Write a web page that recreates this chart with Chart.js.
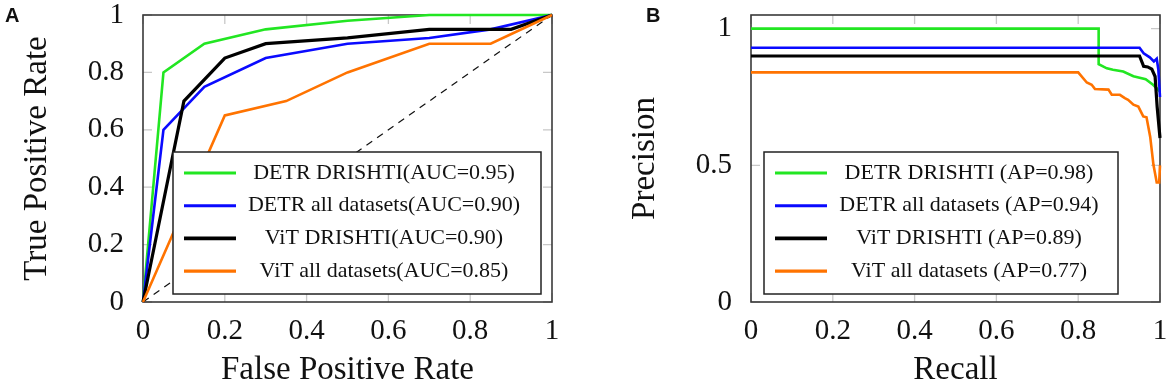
<!DOCTYPE html>
<html>
<head>
<meta charset="utf-8">
<script src="https://cdn.jsdelivr.net/npm/chart.js@4.4.1/dist/chart.umd.min.js"></script>
<style>
  html, body { margin: 0; padding: 0; background: #fff; }
  #wrap { position: relative; width: 1170px; height: 387px; overflow: hidden; }
  .panel { position: absolute; top: 0; width: 585px; height: 387px; }
  .tag { position: absolute; font-family: "Liberation Sans", Arial, sans-serif; font-weight: bold; font-size: 20px; color: #111; }
</style>
</head>
<body>
<div id="wrap">
  <div class="panel" style="left:0"><canvas id="roc"></canvas></div>
  <div class="panel" style="left:585px"><canvas id="pr"></canvas></div>
  <div class="tag" style="left:5px;top:4px">A</div>
  <div class="tag" style="left:646px;top:4px">B</div>
</div>
<script>
// panel A - ROC curves
var rocLabels = ['DETR DRISHTI(AUC=0.95)', 'DETR all datasets(AUC=0.90)', 'ViT DRISHTI(AUC=0.90)', 'ViT all datasets(AUC=0.85)'];
var rocFprDetrDrishti = [0, 0.05, 0.15, 0.3, 0.5, 0.7, 1];
var rocTprDetrDrishti = [0, 0.8, 0.9, 0.95, 0.98, 1, 1];
var rocFprDetrAll = [0, 0.05, 0.15, 0.3, 0.5, 0.7, 0.85, 1];
var rocTprDetrAll = [0, 0.6, 0.75, 0.85, 0.9, 0.92, 0.95, 1];
var rocFprVitDrishti = [0, 0.1, 0.2, 0.3, 0.5, 0.7, 0.9, 1];
var rocTprVitDrishti = [0, 0.7, 0.85, 0.9, 0.92, 0.95, 0.95, 1];
var rocFprVitAll = [0, 0.2, 0.35, 0.5, 0.7, 0.85, 1];
var rocTprVitAll = [0, 0.65, 0.7, 0.8, 0.9, 0.9, 1];
var chanceX = [0, 1];
var chanceY = [0, 1];

// panel B - precision / recall
var prLabels = ['DETR DRISHTI (AP=0.98)', 'DETR all datasets (AP=0.94)', 'ViT DRISHTI (AP=0.89)', 'ViT all datasets (AP=0.77)'];
var prRecDetrDrishti = [0, 0.85, 0.85, 0.87, 0.885, 0.91, 0.935, 0.965, 0.983, 1];
var prPrecDetrDrishti = [1, 1, 0.87, 0.855, 0.85, 0.843, 0.826, 0.815, 0.795, 0.77];
var prRecDetrAll = [0, 0.95, 0.96, 0.975, 0.985, 0.992, 0.996, 1];
var prPrecDetrAll = [0.93, 0.93, 0.91, 0.895, 0.88, 0.89, 0.85, 0.75];
var prRecVitDrishti = [0, 0.95, 0.96, 0.97, 0.98, 0.988, 0.993, 1];
var prPrecVitDrishti = [0.9, 0.9, 0.862, 0.86, 0.852, 0.825, 0.715, 0.6];
var prRecVitAll = [0, 0.8, 0.821, 0.833, 0.841, 0.874, 0.882, 0.902, 0.914, 0.922, 0.935, 0.947, 0.959, 0.967, 0.976, 0.984, 0.992, 0.998, 1];
var prPrecVitAll = [0.84, 0.84, 0.803, 0.795, 0.779, 0.777, 0.758, 0.758, 0.746, 0.74, 0.722, 0.715, 0.679, 0.676, 0.605, 0.502, 0.437, 0.437, 0.5];

var unitTicks = [0, 0.2, 0.4, 0.6, 0.8, 1];
var prYTicks = [0, 0.5, 1];

var colors = ['#22e622', '#0a0aff', '#000000', '#ff7300'];
var widths = [2.6, 2.6, 3.2, 2.6];
var serif = '"Liberation Serif", "Times New Roman", serif';

function pts(xs, ys) {
  return xs.map(function (x, i) { return { x: x, y: ys[i] }; });
}

function curve(i, label, xs, ys) {
  return {
    label: label,
    data: pts(xs, ys),
    borderColor: colors[i],
    borderWidth: widths[i],
    order: 3 - i,
    pointRadius: 0,
    tension: 0,
    fill: false,
    clip: false
  };
}

// inside tick marks + frame, like the pgfplots style
var frameAndTicks = {
  id: 'frameAndTicks',
  beforeDatasetsDraw: function (chart) {
    var ctx = chart.ctx, a = chart.chartArea;
    var xs = chart.scales.x, ys = chart.scales.y;
    var len = 9;
    ctx.save();
    ctx.strokeStyle = '#c8c8c8';
    ctx.lineWidth = 1.3;
    ctx.beginPath();
    xs.ticks.forEach(function (t) {
      var px = xs.getPixelForValue(t.value);
      ctx.moveTo(px, a.bottom); ctx.lineTo(px, a.bottom - len);
      ctx.moveTo(px, a.top); ctx.lineTo(px, a.top + len);
    });
    ys.ticks.forEach(function (t) {
      var py = ys.getPixelForValue(t.value);
      ctx.moveTo(a.left, py); ctx.lineTo(a.left + len, py);
      ctx.moveTo(a.right, py); ctx.lineTo(a.right - len, py);
    });
    ctx.stroke();
    ctx.strokeStyle = '#3a3a3a';
    ctx.lineWidth = 1.6;
    ctx.strokeRect(a.left, a.top, a.right - a.left, a.bottom - a.top);
    ctx.restore();
  }
};

var boxLegend = {
  id: 'boxLegend',
  afterDatasetsDraw: function (chart, args, o) {
    var ctx = chart.ctx, a = chart.chartArea;
    var x = a.left + o.dx, y = a.top + o.dy;
    ctx.save();
    ctx.fillStyle = '#fff';
    ctx.fillRect(x, y, o.w, o.h);
    ctx.strokeStyle = '#222';
    ctx.lineWidth = 1.5;
    ctx.strokeRect(x, y, o.w, o.h);
    ctx.font = '22px ' + serif;
    ctx.textAlign = 'center';
    ctx.textBaseline = 'middle';
    chart.data.datasets.filter(function (d) { return d.label; }).forEach(function (d, i) {
      var ry = y + o.firstRow + i * o.rowGap;
      ctx.strokeStyle = d.borderColor;
      ctx.lineWidth = d.borderWidth + 0.5;
      ctx.beginPath();
      ctx.moveTo(x + 11, ry);
      ctx.lineTo(x + 63, ry);
      ctx.stroke();
      ctx.fillStyle = '#111';
      ctx.fillText(d.label, x + o.textCenter, ry);
    });
    ctx.restore();
  }
};

function makeScales(xTitle, yTitle, yMax, yTicks, yWidth, yTitlePad) {
  return {
    x: {
      type: 'linear', min: 0, max: 1,
      grid: { display: false }, border: { display: false },
      afterBuildTicks: function (s) { s.ticks = unitTicks.map(function (v) { return { value: v }; }); },
      ticks: {
        padding: 7, maxRotation: 0, color: '#111',
        font: { family: serif, size: 29, lineHeight: 1 },
        callback: function (v) { return String(v); }
      },
      title: {
        display: true, text: xTitle, color: '#111',
        font: { family: serif, size: 33, lineHeight: 1 },
        padding: { top: 0, bottom: 0 }
      },
      afterFit: function (s) { s.height = 85; s.paddingLeft = 0; s.paddingRight = 0; }
    },
    y: {
      type: 'linear', min: 0, max: yMax,
      grid: { display: false }, border: { display: false },
      afterBuildTicks: function (s) { s.ticks = yTicks.map(function (v) { return { value: v }; }); },
      ticks: {
        padding: 11, color: '#111',
        font: { family: serif, size: 29, lineHeight: 1 },
        callback: function (v) { return String(v); }
      },
      title: {
        display: true, text: yTitle, color: '#111',
        font: { family: serif, size: 33, lineHeight: 1 },
        padding: { top: yTitlePad, bottom: 0 }
      },
      afterFit: function (s) { s.width = yWidth; s.paddingTop = 0; s.paddingBottom = 0; }
    }
  };
}

Chart.defaults.animation = false;

new Chart(document.getElementById('roc'), {
  type: 'line',
  data: {
    datasets: [
      curve(0, rocLabels[0], rocFprDetrDrishti, rocTprDetrDrishti),
      curve(1, rocLabels[1], rocFprDetrAll, rocTprDetrAll),
      curve(2, rocLabels[2], rocFprVitDrishti, rocTprVitDrishti),
      curve(3, rocLabels[3], rocFprVitAll, rocTprVitAll),
      {
        data: pts(chanceX, chanceY),
        borderColor: '#111', borderWidth: 1.2, borderDash: [7, 6],
        pointRadius: 0, order: 9, fill: false
      }
    ]
  },
  options: {
    responsive: true,
    maintainAspectRatio: false,
    layout: { padding: { top: 15, right: 33, bottom: 0, left: 0 } },
    plugins: {
      legend: { display: false },
      tooltip: { enabled: false },
      boxLegend: { dx: 30, dy: 137, w: 368, h: 142, firstRow: 21, rowGap: 32.7, textCenter: 211 }
    },
    scales: makeScales('False Positive Rate', 'True Positive Rate', 1, unitTicks, 143, 20.5)
  },
  plugins: [frameAndTicks, boxLegend]
});

new Chart(document.getElementById('pr'), {
  type: 'line',
  data: {
    datasets: [
      curve(0, prLabels[0], prRecDetrDrishti, prPrecDetrDrishti),
      curve(1, prLabels[1], prRecDetrAll, prPrecDetrAll),
      curve(2, prLabels[2], prRecVitDrishti, prPrecVitDrishti),
      curve(3, prLabels[3], prRecVitAll, prPrecVitAll)
    ]
  },
  options: {
    responsive: true,
    maintainAspectRatio: false,
    layout: { padding: { top: 15, right: 10, bottom: 0, left: 0 } },
    plugins: {
      legend: { display: false },
      tooltip: { enabled: false },
      boxLegend: { dx: 13, dy: 137, w: 354, h: 142, firstRow: 21, rowGap: 32.7, textCenter: 205 }
    },
    scales: makeScales('Recall', 'Precision', 1.05, prYTicks, 166, 43.5)
  },
  plugins: [frameAndTicks, boxLegend]
});
</script>
</body>
</html>
